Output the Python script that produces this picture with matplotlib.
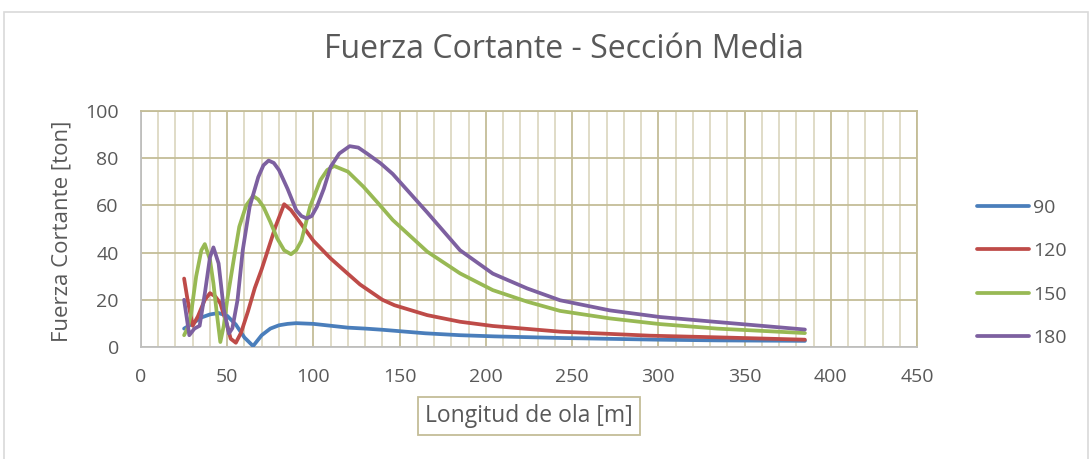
import matplotlib.pyplot as plt
from matplotlib.patches import Rectangle

# Fuerza cortante vs longitud de ola, per series
x_90 = [25, 30, 35, 40, 45, 50, 55, 60, 65, 70, 75, 80, 85, 90, 100, 110, 120, 130, 140, 165, 185, 205, 245, 300, 335, 385]
y_90 = [7.8, 10.0, 12.5, 13.8, 14.4, 13.2, 9.5, 4.0, 0.4, 5.0, 7.8, 9.2, 9.8, 10.1, 9.8, 9.0, 8.2, 7.8, 7.3, 5.8, 5.0, 4.5, 3.8, 3.1, 2.8, 2.6]

x_120 = [25, 27, 30, 33, 37, 40, 43, 46, 50, 52, 55, 58, 62, 66, 70, 74, 78, 83, 87, 90, 95, 100, 110, 120, 127, 140, 147, 166, 185, 204, 243, 295, 334, 385]
y_120 = [29, 20, 9, 13, 20, 22.8, 21.5, 18.5, 9, 3.5, 1.8, 6, 15, 25, 33, 42, 51, 60.5, 58, 55, 50, 45, 37.5, 31, 26.5, 20, 17.7, 13.5, 10.7, 8.9, 6.5, 4.8, 4.1, 3.1]

x_150 = [25, 27, 29, 32, 35, 37, 40, 42, 44, 46, 48, 50, 54, 57, 61, 65, 68, 71, 75, 79, 83, 87, 90, 93, 98, 104, 108, 112, 120, 129, 139, 146, 166, 185, 204, 224, 243, 272, 301, 334, 385]
y_150 = [5, 8, 14, 30, 41, 43.6, 37, 27, 14, 2.1, 9, 20, 38, 51, 60, 64, 62.5, 59.4, 53, 46, 41, 39.3, 41, 45, 59.4, 70.7, 75, 76.7, 74.3, 67.9, 59.7, 53.8, 40.4, 31.2, 24.1, 19.2, 15.3, 12.1, 9.7, 7.8, 5.9]

x_180 = [25, 28, 31, 34, 37, 40, 42, 45, 48, 51, 53, 56, 59, 63, 68, 71, 74, 77, 80, 85, 90, 93, 96, 99, 102, 106, 110, 115, 121, 126, 131, 139, 146, 166, 185, 204, 224, 243, 272, 301, 334, 385]
y_180 = [20, 5, 7.8, 9, 22.6, 38, 42.2, 35.4, 16, 5.7, 8, 20, 41, 59.4, 72, 77, 79, 78, 75, 67, 58, 55.5, 54.5, 55.5, 59.4, 67, 76.4, 82, 85.1, 84.5, 82, 77.8, 73.3, 57, 41, 31.1, 24.8, 19.8, 15.5, 12.7, 10.6, 7.4]

series = ['90', '120', '150', '180']
colors = ['#4a7ebb', '#be4b48', '#98b954', '#7d60a0']

font = 'Open Sans'
txt = '#595959'
major = '#c4bd97'
minor = '#ddd9c3'

fig = plt.figure(figsize=(10.92, 4.59), dpi=100)
fig.patches.append(Rectangle((4 / 1092, -0.1), 1084 / 1092, 1.1 - 12 / 459,
                             transform=fig.transFigure, fill=False,
                             edgecolor='#d9d9d9', linewidth=1.2))

ax = fig.add_axes([141 / 1092, 1 - 347 / 459, 776 / 1092, 236 / 459])

for xs, ys, name, c in zip([x_90, x_120, x_150, x_180], [y_90, y_120, y_150, y_180], series, colors):
    ax.plot(xs, ys, color=c, linewidth=2.7, label=name, solid_capstyle='round', zorder=3)

ax.set_xlim(0, 450)
ax.set_ylim(0, 100)
ax.set_xticks(range(0, 451, 50))
ax.set_xticks(range(0, 451, 10), minor=True)
ax.set_yticks(range(0, 101, 20))
ax.grid(True, which='major', color=major, linewidth=1.3)
ax.grid(True, which='minor', axis='x', color=minor, linewidth=1.3)
ax.tick_params(which='both', length=0, labelsize=14, labelcolor=txt)
ax.tick_params(axis='x', pad=15)
ax.tick_params(axis='y', pad=16)
for lab in ax.get_xticklabels() + ax.get_yticklabels():
    lab.set_fontfamily(font)
ax.spines['top'].set_color(major)
ax.spines['right'].set_color(major)
ax.spines['bottom'].set_color('#bfbfbf')
ax.spines['left'].set_color('#bfbfbf')
for s in ax.spines.values():
    s.set_linewidth(1.3)

fig.text(564 / 1092, 1 - 50 / 459, 'Fuerza Cortante - Sección Media', ha='center', va='center',
         fontsize=23, color=txt, family=font)
fig.text(62 / 1092, 1 - 231 / 459, 'Fuerza Cortante [ton]', ha='center', va='center',
         rotation=90, fontsize=16, color=txt, family=font)
fig.text(529 / 1092, 1 - 416 / 459, 'Longitud de ola [m]', ha='center', va='center',
         fontsize=16.5, color=txt, family=font,
         bbox=dict(boxstyle='square,pad=0.3', facecolor='white', edgecolor=major, linewidth=1.3))

leg = fig.legend(loc='center left', bbox_to_anchor=(967 / 1092, 1 - 273 / 459), frameon=False,
                 borderpad=0, handlelength=2.7, handletextpad=0.2, labelspacing=1.31,
                 prop={'family': font, 'size': 14})
for t in leg.get_texts():
    t.set_color(txt)

fig.savefig('out.png', dpi=100)
